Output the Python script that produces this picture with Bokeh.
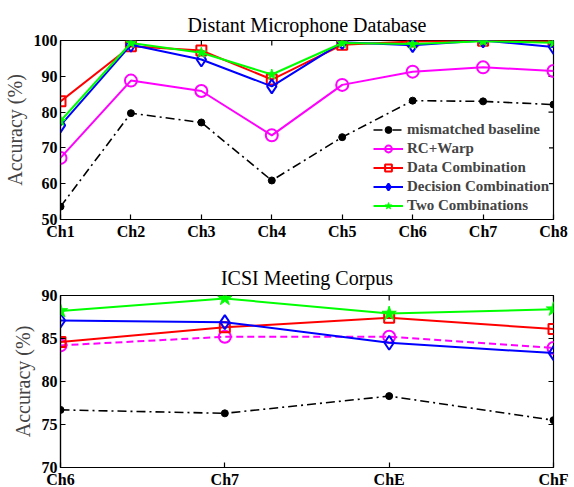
import math
from bokeh.plotting import figure
from bokeh.layouts import column
from bokeh.models import FixedTicker, Range1d, Legend, LegendItem
from bokeh.embed import file_html
from bokeh.resources import INLINE

# ---- data: Distant Microphone Database ----
dm_channels = ["Ch1", "Ch2", "Ch3", "Ch4", "Ch5", "Ch6", "Ch7", "Ch8"]
dm_baseline = [53.6, 79.7, 77.1, 60.9, 73.0, 83.2, 83.0, 82.1]
dm_rcwarp = [67.2, 88.8, 85.9, 73.5, 87.6, 91.3, 92.5, 91.5]
dm_data = [83.0, 98.4, 97.2, 89.1, 98.8, 99.7, 99.9, 99.8]
dm_decision = [76.3, 98.8, 94.7, 87.2, 99.5, 98.7, 100.0, 98.2]
dm_two = [77.5, 99.3, 96.6, 90.5, 99.3, 99.0, 99.8, 99.4]
dm_yticks = [50, 60, 70, 80, 90, 100]

# ---- data: ICSI Meeting Corpus ----
icsi_channels = ["Ch6", "Ch7", "ChE", "ChF"]
icsi_baseline = [76.7, 76.3, 78.3, 75.5]
icsi_rcwarp = [84.2, 85.2, 85.2, 83.9]
icsi_data = [84.6, 86.3, 87.4, 86.1]
icsi_decision = [87.1, 86.9, 84.5, 83.3]
icsi_two = [88.2, 89.65, 87.9, 88.4]
icsi_yticks = [70, 75, 80, 85, 90]

names = ["mismatched baseline", "RC+Warp", "Data Combination",
         "Decision Combination", "Two Combinations"]

SERIF = "Liberation Serif"


def style_axis(ax, ticks, labels=None):
    ax.ticker = FixedTicker(ticks=ticks)
    ax.major_tick_in = 5
    ax.major_tick_out = 0
    ax.minor_tick_line_color = None
    ax.axis_line_color = "black"
    ax.axis_line_width = 1.2
    ax.major_tick_line_color = "black"
    ax.major_tick_line_width = 1.2
    ax.major_label_text_font = SERIF
    ax.major_label_text_font_style = "bold"
    ax.major_label_text_font_size = "16px"
    ax.major_label_text_color = "black"
    ax.major_label_standoff = 3
    if labels is not None:
        ax.major_label_overrides = {i: l for i, l in enumerate(labels)}


def make_fig(title, nx, ylo, yhi, frame_h, top, bottom, channels, yticks, tstand):
    p = figure(frame_width=493, frame_height=frame_h,
               x_range=Range1d(0, nx - 1), y_range=Range1d(ylo, yhi),
               output_backend="svg", toolbar_location=None,
               min_border_left=60, min_border_right=21,
               min_border_top=top, min_border_bottom=bottom)
    p.grid.visible = False
    p.outline_line_color = "black"
    p.outline_line_width = 1.2
    p.title.text = title
    p.title.text_font = SERIF
    p.title.text_font_size = "20px"
    p.title.text_font_style = "normal"
    p.title.align = "center"
    p.title.text_color = "black"
    p.title.standoff = tstand
    xt = list(range(nx))
    style_axis(p.xaxis[0], xt, channels)
    style_axis(p.yaxis[0], yticks)
    p.yaxis[0].axis_label = "Accuracy (%)"
    p.yaxis[0].axis_label_text_font = SERIF
    p.yaxis[0].axis_label_text_font_style = "normal"
    p.yaxis[0].axis_label_text_font_size = "20px"
    p.yaxis[0].axis_label_standoff = 5
    # inward tick marks on the top and right edges of the box
    p.scatter(xt, [yhi] * nx, marker="dash", angle=math.pi / 2, size=10,
              line_color="black", line_width=1.2)
    p.scatter([nx - 1] * len(yticks), yticks, marker="dash", size=10,
              line_color="black", line_width=1.2)
    return p


def draw(p, xs, series, big=False, rc_dash=None):
    base, rc, dat, dec, two = series
    items = []
    l = p.line(xs, base, line_color="black", line_width=1.6, line_dash="9 4 2 4")
    m = p.scatter(xs, base, marker="circle", size=7, fill_color="black", line_color="black")
    items.append((names[0], [l, m]))
    l = p.line(xs, rc, line_color="#ff00ff", line_width=2,
               line_dash=rc_dash if rc_dash else "solid")
    m = p.scatter(xs, rc, marker="circle", size=12, fill_color=None,
                  line_color="#ff00ff", line_width=2)
    items.append((names[1], [l, m]))
    l = p.line(xs, dat, line_color="#ff0000", line_width=2)
    m = p.scatter(xs, dat, marker="square", size=10, fill_color=None,
                  line_color="#ff0000", line_width=2)
    items.append((names[2], [l, m]))
    l = p.line(xs, dec, line_color="#0000ff", line_width=2)
    m = p.scatter(xs, dec, marker="diamond", size=14, fill_color=None,
                  line_color="#0000ff", line_width=2)
    items.append((names[3], [l, m]))
    l = p.line(xs, two, line_color="#00ff00", line_width=2)
    m = p.scatter(xs, two, marker="star", size=15 if big else 11,
                  fill_color="#00ff00", line_color="#00ff00")
    items.append((names[4], [l, m]))
    return items


p1 = make_fig("Distant Microphone Database", len(dm_channels), 50, 100, 179, 40, 30,
              dm_channels, dm_yticks, 10)
items = draw(p1, list(range(len(dm_channels))),
             [dm_baseline, dm_rcwarp, dm_data, dm_decision, dm_two])
leg = Legend(items=[LegendItem(label=n, renderers=r) for n, r in items],
             location=(313, 5), border_line_color=None,
             background_fill_color="white", background_fill_alpha=1.0,
             label_text_font=SERIF, label_text_font_style="bold",
             label_text_font_size="15px", glyph_width=30, glyph_height=17,
             label_height=17, label_standoff=4, spacing=2, padding=0, margin=0)
p1.add_layout(leg, "center")

p2 = make_fig("ICSI Meeting Corpus", len(icsi_channels), 70, 90, 172, 46, 19,
              icsi_channels, icsi_yticks, 13)
draw(p2, list(range(len(icsi_channels))),
     [icsi_baseline, icsi_rcwarp, icsi_data, icsi_decision, icsi_two],
     big=True, rc_dash="7 4")

layout = column(p1, p2, spacing=0)
open("out.html", "w").write(file_html(layout, INLINE))
